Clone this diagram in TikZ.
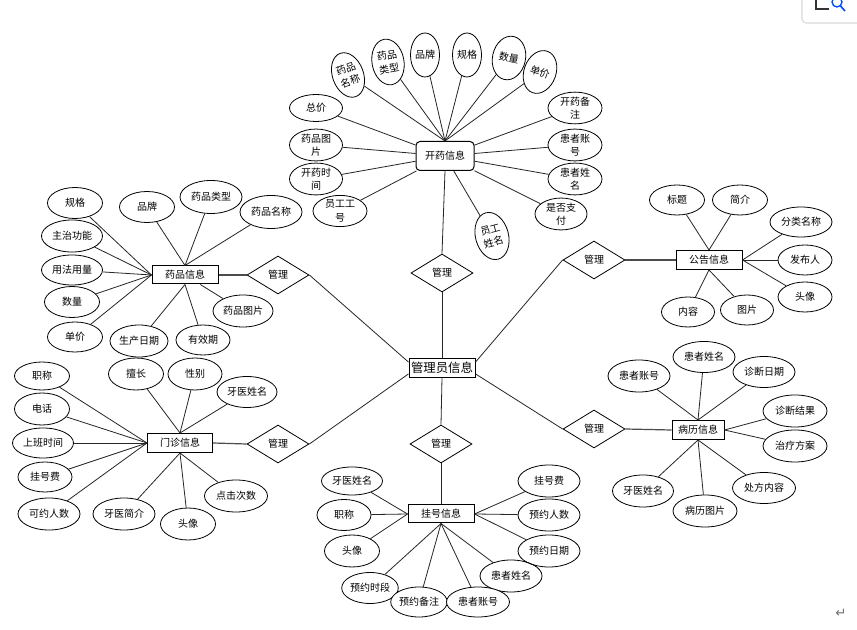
\documentclass[tikz,border=0pt]{standalone}
\usepackage{fontspec}
\setmainfont{Noto Sans CJK SC}
\newfontfamily\djv{DejaVu Sans}
\usetikzlibrary{shapes.geometric}
\tikzset{
  ell/.style 2 args={draw=black, line width=0.6pt, ellipse, inner sep=0pt, minimum width=#1*0.75pt, minimum height=#2*0.75pt, font=\fontsize{7.5}{10}\selectfont, align=center},
  ent/.style 2 args={draw=black, line width=0.75pt, rectangle, inner sep=0pt, minimum width=#1*0.75pt, minimum height=#2*0.75pt, font=\fontsize{7.5}{8.6}\selectfont},
  rel/.style={draw=black, line width=0.6pt, diamond, inner sep=0pt, minimum width=62*0.75pt, minimum height=38*0.75pt, font=\fontsize{7.5}{8.6}\selectfont},
  lk/.style={draw=black!85, line width=0.6pt},
  lkb/.style={draw=black!70, line width=0.9pt},
}
\begin{document}
\begin{tikzpicture}[x=0.75pt,y=-0.75pt]
\useasboundingbox (0,0) rectangle (857,630);
\fill[white] (0,0) rectangle (857,630);

% ===== 开药信息 =====
\node[ent={58}{29}, rounded corners=3pt] (ky) at (445,156) {开药信息};
\node[ell={31}{46}, rotate=20] (t1) at (348,75) {药品\\名称};
\node[ell={32}{46}, rotate=10] (t2) at (388,62) {药品\\类型};
\node[ell={29}{44}] (t3) at (425,55) {品牌};
\node[ell={29}{44}] (t4) at (467,55) {规格};
\node[ell={33}{44}, rotate=-12] (t5) at (509,58) {数量};
\node[ell={32}{44}, rotate=-20] (t6) at (540,72) {单价};
\node[ell={53}{27}] (t7) at (316,108) {总价};
\node[ell={53}{27}] (t8) at (316,145) {药品图\\片};
\node[ell={53}{28}] (t9) at (316,179) {开药时\\间};
\node[ell={54}{28}] (t10) at (340,211) {员工工\\号};
\node[ell={33}{48}, rotate=15] (t11) at (492,236) {员工\\姓名};
\node[ell={54}{30}] (t12) at (575,108) {开药备\\注};
\node[ell={54}{30}] (t13) at (575,145) {患者账\\号};
\node[ell={54}{29}] (t14) at (575,179) {患者姓\\名};
\node[ell={52}{28}] (t15) at (561,214) {是否支\\付};
\foreach \n in {t1,t2,t3,t4,t5,t6} \draw[lk] (\n) -- (ky.north);
\foreach \n in {t7,t8,t9,t10,t11,t12,t13,t14,t15} \draw[lk] (\n) -- (ky);

% ===== 管理员信息 and relations =====
\node[ent={66}{19}, font=\fontsize{9.3}{10}\selectfont] (adm) at (442,368) {管理员信息};
\node[rel] (r0) at (442,273) {管理};
\node[rel] (r1) at (278,275) {管理};
\node[rel] (r2) at (278,444) {管理};
\node[rel] (r3) at (594,260) {管理};
\node[rel] (r4) at (594,429) {管理};
\node[rel] (r5) at (441,444) {管理};
\draw[lk] (ky.south) -- (r0.north);
\draw[lk] (r0.south) -- (adm.north);
\draw[lk] (adm.south) -- (r5.north);
\draw[lk] (r1.east) -- (adm.170);
\draw[lk] (r2.east) -- (adm.190);
\draw[lk] (r3.west) -- (adm.10);
\draw[lk] (r4.west) -- (adm.-10);

% ===== 药品信息 =====
\node[ent={66}{18}] (yp) at (185,275) {药品信息};
\node[ell={55}{31}] (a1) at (75,203) {规格};
\node[ell={61}{32}] (a2) at (72,236) {主治功能};
\node[ell={61}{30}] (a3) at (72,270) {用法用量};
\node[ell={55}{31}] (a4) at (72,302) {数量};
\node[ell={55}{30}] (a5) at (75,337) {单价};
\node[ell={55}{31}] (a6) at (147,207) {品牌};
\node[ell={62}{33}] (a7) at (211,197) {药品类型};
\node[ell={62}{33}] (a8) at (271,212) {药品名称};
\node[ell={60}{32}] (a9) at (243,311) {药品图片};
\node[ell={54}{30}] (a10) at (203,340) {有效期};
\node[ell={58}{32}] (a11) at (139,341) {生产日期};
\foreach \n in {a1,a2,a3,a4,a5} \draw[lk] (\n) -- (yp.west);
\foreach \n in {a6,a7,a8} \draw[lk] (\n) -- (yp.north);
\foreach \n in {a10,a11} \draw[lk] (\n) -- (yp.south);
\draw[lk] (a9) -- (yp);
\draw[lkb] (yp.east) -- (r1.west);

% ===== 门诊信息 =====
\node[ent={65}{19}] (mz) at (180,443) {门诊信息};
\node[ell={55}{28}] (b1) at (42,376) {职称};
\node[ell={55}{32}] (b2) at (42,409) {电话};
\node[ell={61}{30}] (b3) at (43,443) {上班时间};
\node[ell={54}{30}] (b4) at (45,477) {挂号费};
\node[ell={62}{32}] (b5) at (49,514) {可约人数};
\node[ell={62}{32}] (b6) at (124,514) {牙医简介};
\node[ell={55}{32}] (b7) at (188,524) {头像};
\node[ell={63}{32}] (b8) at (236,496) {点击次数};
\node[ell={55}{32}] (b9) at (136,374) {擅长};
\node[ell={54}{32}] (b10) at (195,374) {性别};
\node[ell={60}{31}] (b11) at (247,392) {牙医姓名};
\foreach \n in {b1,b2,b3,b4,b5} \draw[lk] (\n) -- (mz.west);
\foreach \n in {b9,b10,b11} \draw[lk] (\n) -- (mz.north);
\foreach \n in {b6,b7,b8} \draw[lk] (\n) -- (mz.south);
\draw[lkb] (mz.east) -- (r2.west);

% ===== 公告信息 =====
\node[ent={66}{19}] (gg) at (709,260) {公告信息};
\node[ell={55}{30}] (c1) at (677,200) {标题};
\node[ell={55}{30}] (c2) at (740,200) {简介};
\node[ell={62}{30}] (c3) at (801,222) {分类名称};
\node[ell={54}{30}] (c4) at (805,260) {发布人};
\node[ell={54}{30}] (c5) at (805,297) {头像};
\node[ell={53}{30}] (c6) at (688,312) {内容};
\node[ell={53}{30}] (c7) at (747,310) {图片};
\foreach \n in {c1,c2} \draw[lk] (\n) -- (gg.north);
\foreach \n in {c3,c4,c5} \draw[lk] (\n) -- (gg.east);
\foreach \n in {c6,c7} \draw[lk] (\n) -- (gg.south);
\draw[lkb] (r3.east) -- (gg.west);

% ===== 病历信息 =====
\node[ent={52}{19}] (bl) at (698,430) {病历信息};
\node[ell={62}{32}] (d1) at (639,376) {患者账号};
\node[ell={62}{31}] (d2) at (704,357) {患者姓名};
\node[ell={62}{31}] (d3) at (764,372) {诊断日期};
\node[ell={64}{32}] (d4) at (795,411) {诊断结果};
\node[ell={64}{32}] (d5) at (795,446) {治疗方案};
\node[ell={63}{31}] (d6) at (764,488) {处方内容};
\node[ell={64}{32}] (d7) at (705,511) {病历图片};
\node[ell={61}{32}] (d8) at (643,491) {牙医姓名};
\foreach \n in {d1,d2,d3} \draw[lk] (\n) -- (bl.north);
\foreach \n in {d4,d5} \draw[lk] (\n) -- (bl.east);
\foreach \n in {d6,d7,d8} \draw[lk] (\n) -- (bl.south);
\draw[lkb] (r4.east) -- (bl.west);

% ===== 挂号信息 =====
\node[ent={66}{18}] (gh) at (441,514) {挂号信息};
\draw[lk] (r5.south) -- (gh.north);
\node[ell={61}{28}] (e1) at (352,481) {牙医姓名};
\node[ell={54}{31}] (e2) at (344,515) {职称};
\node[ell={55}{32}] (e3) at (352,551) {头像};
\node[ell={62}{32}] (e4) at (549,481) {挂号费};
\node[ell={62}{32}] (e5) at (549,515) {预约人数};
\node[ell={62}{32}] (e6) at (549,551) {预约日期};
\node[ell={62}{32}] (e7) at (511,576) {患者姓名};
\node[ell={54}{31}, fill=white] (e8) at (370,588) {预约时段};
\node[ell={55}{30}, fill=white] (e9) at (419,602) {预约备注};
\node[ell={63}{30}, fill=white] (e10) at (478,602) {患者账号};
\foreach \n in {e1,e2,e3} \draw[lk] (\n) -- (gh.west);
\foreach \n in {e4,e5,e6} \draw[lk] (\n) -- (gh.east);
\foreach \n in {e7,e8,e9,e10} \draw[lk] (\n) -- (gh.south);

% ===== decorations =====
\draw[black!15, line width=0.8pt, rounded corners=3pt] (802,-10) -- (802,23) -- (870,23);
\draw[black!80, line width=0.8pt] (816,-2) -- (816,9) -- (829,9);
\draw[blue!70!cyan, line width=1pt] (837,2) circle[radius=5];
\draw[blue!70!cyan, line width=1.2pt] (840.5,6) -- (845,11);
\node[font=\djv\fontsize{10}{10}\selectfont, text=black!55] (ret) at (841,613) {↵};
\end{tikzpicture}
\end{document}
